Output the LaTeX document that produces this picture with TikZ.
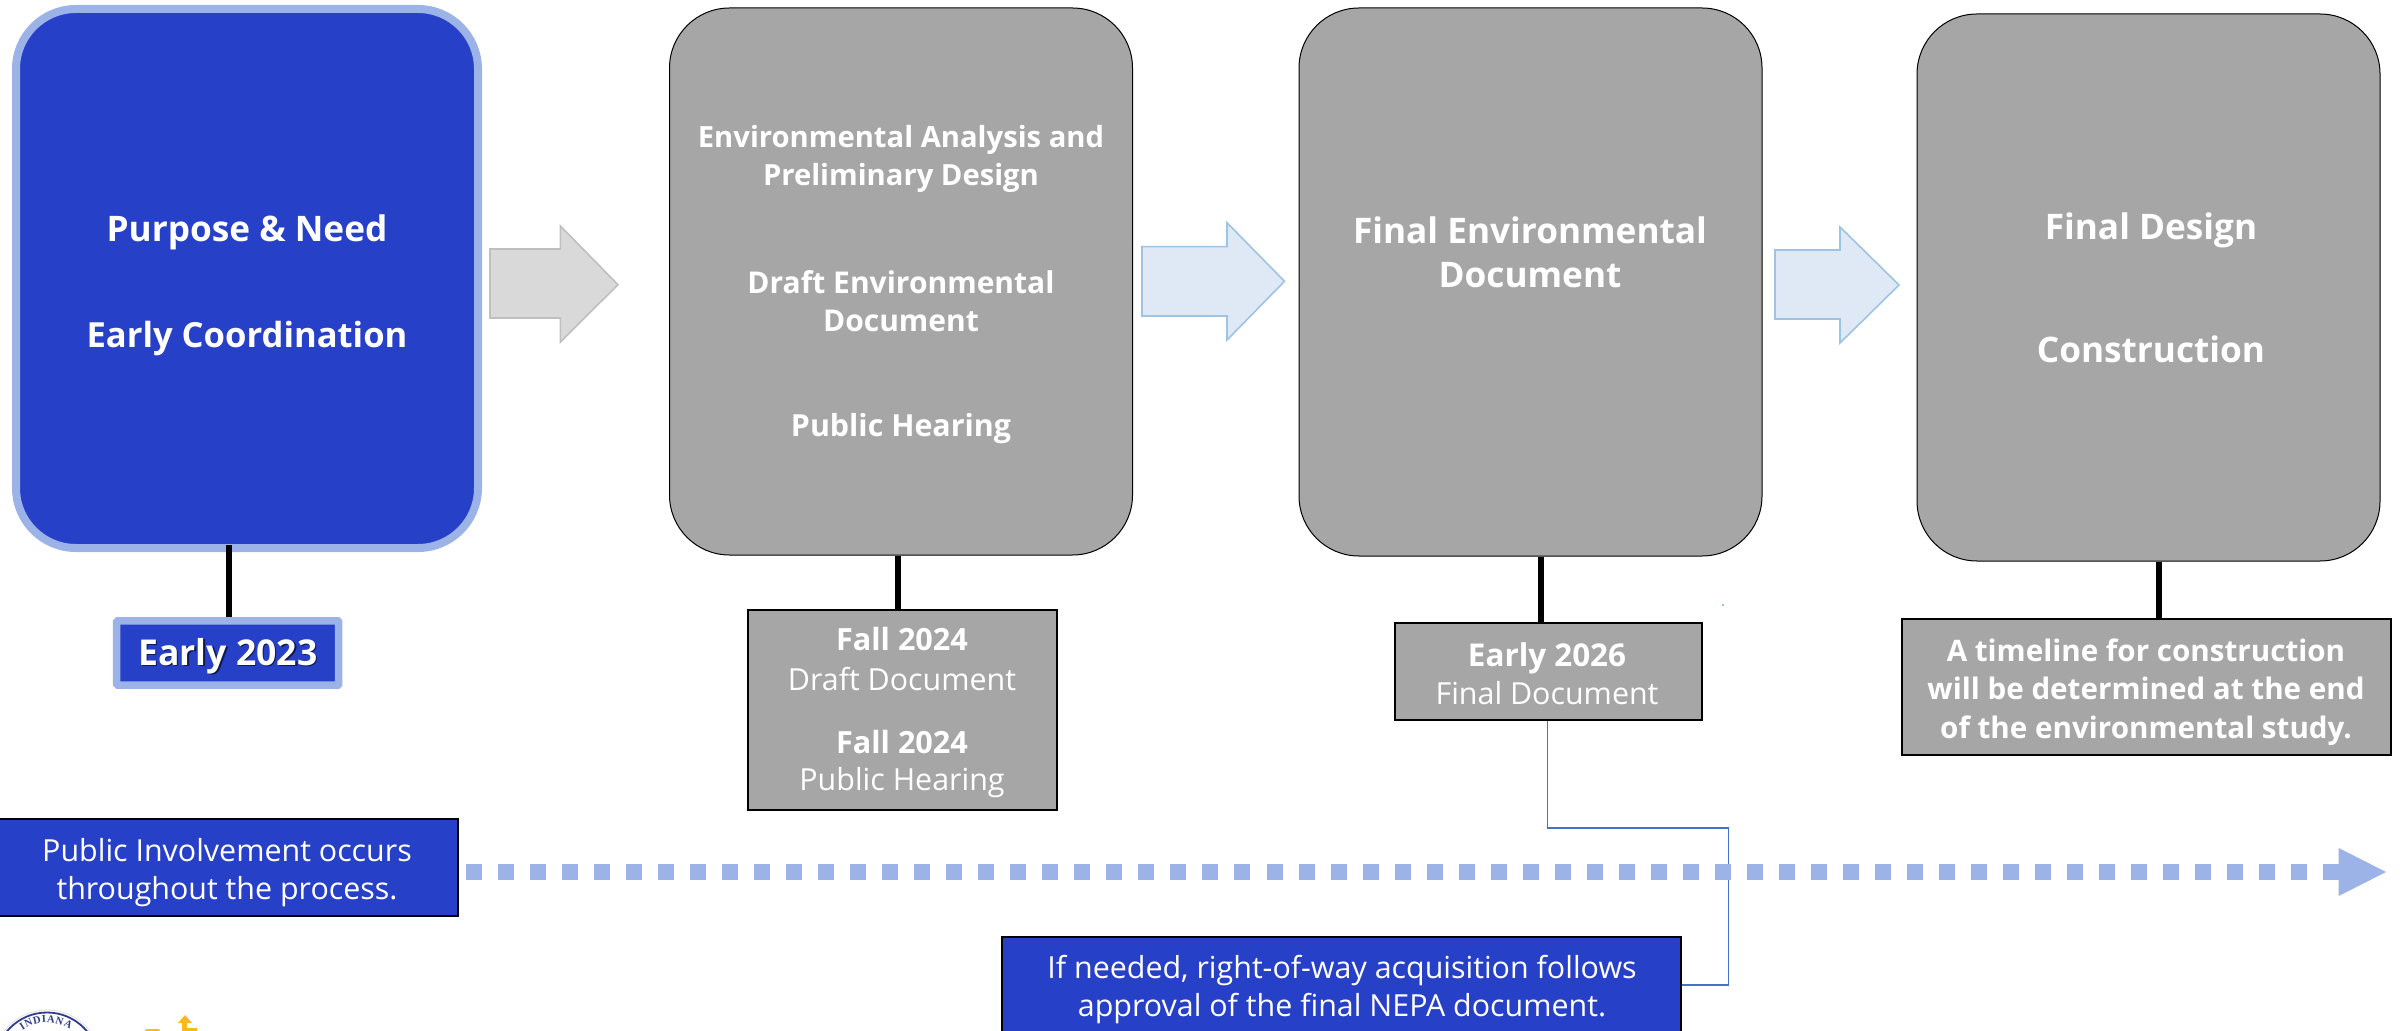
\documentclass[tikz,border=0pt]{standalone}
\usepackage{fontspec}
\setmainfont{Open Sans}
\newfontfamily\sealfont{Liberation Serif}
\usetikzlibrary{calc,positioning}
\definecolor{royal}{HTML}{2740C8}
\definecolor{pale}{HTML}{9CB3E8}
\definecolor{stone}{HTML}{A6A6A6}
\definecolor{arrowgray}{HTML}{D9D9D9}
\definecolor{arrowgrayline}{HTML}{BFBFBF}
\definecolor{arrowblue}{HTML}{DEE9F5}
\definecolor{arrowblueline}{HTML}{9DC3E6}
\definecolor{wire}{HTML}{4472C4}
\definecolor{sealblue}{HTML}{2F3C8C}
\definecolor{logoyellow}{HTML}{FFB81C}
\newcommand{\shadowed}[1]{\leavevmode\rlap{\raisebox{-0.6pt}{\kern0.6pt\textcolor{black!60!royal}{#1}}}#1}
\tikzset{
  phase/.style={rounded corners=30pt,draw=black,line width=0.5pt,fill=stone,inner sep=0pt},
  phaseblue/.style={rounded corners=30pt,draw=pale,line width=4pt,fill=royal,inner sep=0pt},
  datebox/.style={draw=black,line width=1pt,fill=stone,inner sep=0pt},
  bluebox/.style={draw=black,line width=1pt,fill=royal,inner sep=0pt},
  stem/.style={draw=black,line width=2.7pt},
  head/.style={text=white,font=\fontsize{17.6}{22}\selectfont\bfseries,inner sep=0pt,align=center},
  headsmall/.style={text=white,font=\fontsize{15}{19}\selectfont\bfseries,inner sep=0pt,align=center},
  datetxt/.style={text=white,font=\fontsize{15.3}{19}\selectfont\bfseries,inner sep=0pt,align=center},
  plain/.style={text=white,font=\fontsize{15.2}{19}\selectfont,inner sep=0pt,align=center},
  block/.style={line width=0.8pt,line join=miter},
}
\begin{document}
\begin{tikzpicture}[x=0.5pt,y=-0.5pt]
\useasboundingbox (0,0) rectangle (2402,1031);
\clip (0,0) rectangle (2402,1031);
% phases
\node[phaseblue,minimum width=231pt,minimum height=269.5pt] (p1) at (247,278.5) {};
\node[phase,minimum width=231.5pt,minimum height=273.5pt] (p2) at (901,281.5) {};
\node[phase,minimum width=231.5pt,minimum height=274pt] (p3) at (1530.5,282) {};
\node[phase,minimum width=231.5pt,minimum height=273.5pt] (p4) at (2148.5,287.5) {};
% date boxes
\node[draw=pale,line width=3.75pt,fill=royal,inner sep=0pt,rounded corners=0.6pt,minimum width=111pt,minimum height=32.2pt] (d1) at (227.7,653) {};
\node[datebox,minimum width=154.5pt,minimum height=100pt] (d2) at (902.5,710) {};
\node[datebox,minimum width=153.5pt,minimum height=48.5pt] (d3) at (1548,671.5) {};
\node[datebox,minimum width=244.5pt,minimum height=68pt] (d4) at (2146,687) {};
% info boxes
\node[bluebox,minimum width=232pt,minimum height=48.5pt] (pi) at (226,867.5) {};
\node[bluebox,minimum width=339.5pt,minimum height=50pt] (row) at (1341.5,987) {};
% stems
\coordinate (s1) at (229,617);
\coordinate (s2) at (898,610);
\coordinate (s3) at (1541,622);
\coordinate (s4) at (2159,619);
\coordinate (s1top) at (229,545);
\draw[stem] (s1top) -- (s1);
\draw[stem] (s2 |- p2.south) -- (s2);
\draw[stem] (s3 |- p3.south) -- (s3);
\draw[stem] (s4 |- p4.south) -- (s4);
% block arrows
\draw[block,draw=arrowgrayline,fill=arrowgray] (490,249) -- (560.4,249) -- (560.4,226) -- (618,284.7) -- (560.4,342) -- (560.4,318) -- (490,318) -- cycle;
\draw[block,draw=arrowblueline,fill=arrowblue] (1142,246.7) -- (1227,246.7) -- (1227,222.7) -- (1284.5,281.3) -- (1227,340) -- (1227,316) -- (1142,316) -- cycle;
\draw[block,draw=arrowblueline,fill=arrowblue] (1775,250) -- (1840,250) -- (1840,227) -- (1899,285) -- (1840,343) -- (1840,319) -- (1775,319) -- cycle;
% connector
\coordinate (c1) at (1547.6,828);
\coordinate (c2) at (1728.4,828);
\coordinate (c3) at (1728.4,985);
\draw[wire,line width=0.8pt] (c1 |- d3.south) -- (c1) -- (c2) -- (c3) -- (c3 -| row.east);
% dotted arrow
\coordinate (dotstart) at (466,872);
\coordinate (dotend) at (2339,872);
\coordinate (dottip) at (2386,872);
\draw[pale,line width=8pt,dash pattern=on 8pt off 8.01pt] (dotstart) -- (dotend);
\fill[pale] (2338.7,848) -- (dottip) -- (2338.7,896) -- cycle;
% speck
\fill[arrowblueline] (1722,604) rectangle (1724,606);
% labels
\node[head] (t1) at (247,232) {Purpose \& Need};
\node[head,font=\fontsize{17.3}{22}\selectfont\bfseries] (t2) at (247,339) {Early Coordination};
\node[headsmall,font=\fontsize{14.6}{19}\selectfont\bfseries] (t3) at (901,158.5) {Environmental Analysis and\\Preliminary Design};
\node[headsmall] (t4) at (901,301) {Draft Environmental\\Document};
\node[headsmall,font=\fontsize{15.2}{19}\selectfont\bfseries] (t5) at (901,429) {Public Hearing};
\node[head] (t6) at (1530,252) {Final Environmental\\Document};
\node[head] (t7) at (2151,230) {Final Design};
\node[head] (t8) at (2151,349) {Construction};
\node[datetxt,font=\fontsize{17.8}{22}\selectfont\bfseries] (t9) at (228,657) {\shadowed{Early 2023}};
\node[datetxt] (t10) at (902,639) {Fall 2024};
\node[plain] (t11) at (902,679) {Draft Document};
\node[datetxt] (t12) at (902,742) {Fall 2024};
\node[plain] (t13) at (902,783) {Public Hearing};
\node[datetxt,font=\fontsize{15.7}{19}\selectfont\bfseries] (t14) at (1547,658) {Early 2026};
\node[plain] (t15) at (1547,693) {Final Document};
\node[datetxt,font=\fontsize{14.8}{19.2}\selectfont\bfseries] (t16) at (2146,692) {A timeline for construction\\will be determined at the end\\of the environmental study.};
\node[plain] (t17) at (227,873) {Public Involvement occurs\\throughout the process.};
\node[plain] (t18) at (1342,990) {If needed, right-of-way acquisition follows\\approval of the final NEPA document.};
% logos
\coordinate (sealc) at (47,1064.5);
\draw[black!12,line width=0.4pt] (sealc) circle (54.5);
\draw[sealblue,line width=0.9pt] (sealc) circle (52);
\foreach \ch/\ang in {I/-33,N/-24,D/-13,I/-4,A/5,N/16,A/28}
  \node[text=sealblue,font=\sealfont\bfseries\fontsize{5.3}{6}\selectfont,inner sep=0pt,rotate=-\ang] at ($(sealc)+({sin(\ang)*45.5},{-cos(\ang)*45.5})$) {\ch};
\fill[logoyellow] (178,1023) -- (185,1015) -- (192,1023) -- (187,1023) -- (187,1028) -- (197,1028) -- (197,1033) -- (182,1033) -- (182,1023) -- cycle;
\fill[logoyellow,rounded corners=1pt] (145,1033) rectangle (160,1029);
\end{tikzpicture}
\end{document}
